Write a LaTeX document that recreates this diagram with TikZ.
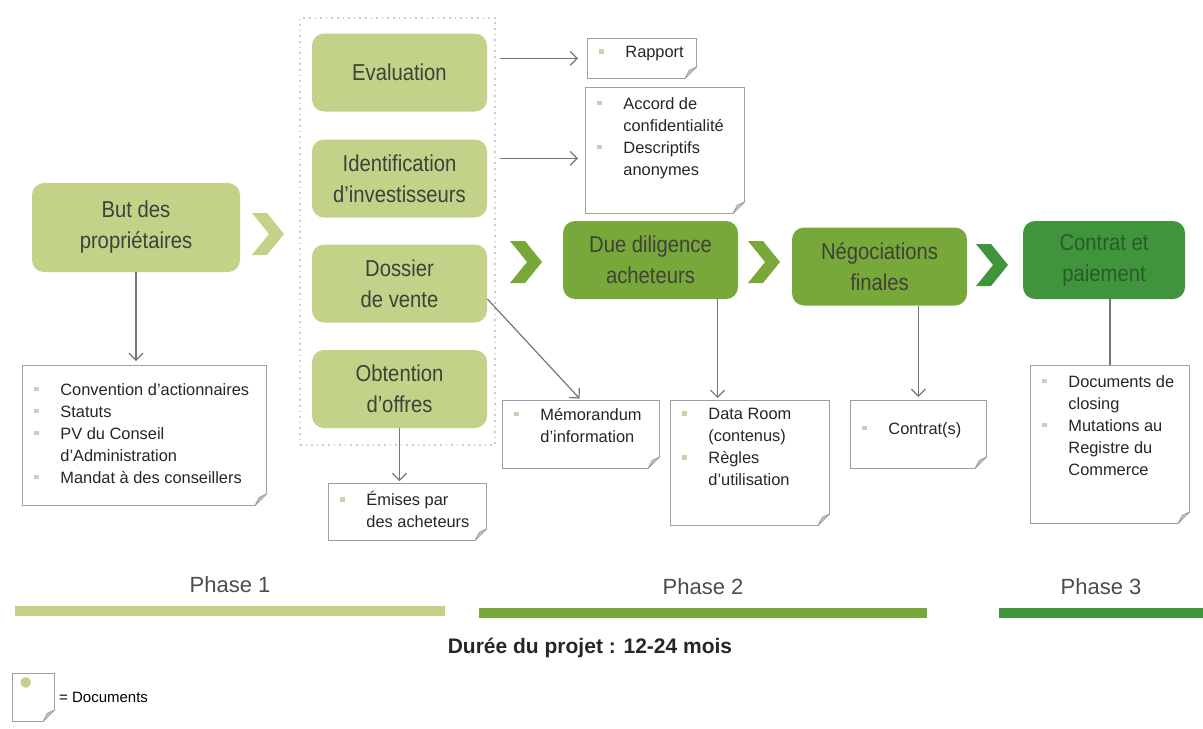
\documentclass[tikz,border=0pt]{standalone}
\usepackage{fontspec}
\setmainfont{Liberation Sans}
\newfontfamily\etapefont{Liberation Sans}[FakeStretch=0.88]
\usetikzlibrary{positioning,arrows.meta}

\definecolor{vertclair}{RGB}{194,210,136}
\definecolor{vertmoyen}{RGB}{120,168,58}
\definecolor{vertfonce}{RGB}{64,148,60}
\definecolor{texte}{RGB}{62,66,56}
\definecolor{textefonce}{RGB}{40,92,40}
\definecolor{trait}{RGB}{118,118,118}
\definecolor{puce}{RGB}{196,210,178}
\definecolor{pli}{RGB}{196,196,196}

\newcommand{\puce}[1]{\par\noindent
  \makebox[14pt][l]{\hspace{1pt}\textcolor{puce}{\rule[2pt]{2.2pt}{2.2pt}}}%
  \parbox[t]{\dimexpr\linewidth-14pt\relax}{\raggedright #1\par\xdef\derniereprof{\the\prevdepth}}%
  \par\prevdepth=\derniereprof\relax}

\begin{document}
\begin{tikzpicture}[x=0.5pt, y=-0.5pt,
    etape/.style={rectangle, rounded corners=6pt, align=center, text=texte,
      font={\etapefont\fontsize{11.5}{15.5}\selectfont}, minimum width=87.5pt, minimum height=39pt},
    cadre/.style={draw=gray!40, dotted, line width=0.8pt, inner sep=0pt,
      minimum width=97.5pt, minimum height=213.5pt},
    doc/.style 2 args={rectangle, draw=trait!70, fill=white, anchor=north west,
      inner xsep=5pt, inner ysep=4pt, text=black!85,
      font={\fontsize{8.2}{11}\selectfont},
      execute at begin node={\begin{minipage}[t][#2][t]{#1}\raggedright},
      execute at end node={\end{minipage}}},
    barre/.style={rectangle, inner sep=0pt, minimum height=5pt},
    phase/.style={inner sep=0pt, text=black!70, font={\fontsize{11}{13}\selectfont}},
    fleche/.style={draw=trait, line width=0.6pt, -{Straight Barb[length=3.5pt,width=7pt]}},
    pics/chevron/.style={code={
      \fill[#1] (-16,-21) -- (-1,-21) -- (16,0) -- (-1,21) -- (-16,21) -- (1,0) -- cycle;}}]
    \useasboundingbox (0,0) rectangle (1203,728);

    % phase 1
    \node[cadre] (cadre) at (397.5,231.5) {};
    \node[etape, fill=vertclair, minimum width=104pt, minimum height=44.5pt] (but) at (136,227.5) {But des\\propriétaires};
    \node[etape, fill=vertclair] (eval) at (399.5,72.5) {Evaluation};
    \node[etape, fill=vertclair] (ident) at (399.5,178.5) {Identification\\d’investisseurs};
    \node[etape, fill=vertclair] (dossier) at (399.5,283.5) {Dossier\\de vente};
    \node[etape, fill=vertclair] (obt) at (399.5,389) {Obtention\\d’offres};

    % phase 2 et 3
    \node[etape, fill=vertmoyen] (due) at (650.5,260) {Due diligence\\acheteurs};
    \node[etape, fill=vertmoyen] (nego) at (879.5,266.5) {Négociations\\finales};
    \node[etape, fill=vertfonce, text=textefonce, minimum width=81pt] (paie) at (1104,260) {Contrat et\\paiement};

    \pic at (268,234) {chevron=vertclair};
    \pic at (526,262) {chevron=vertmoyen};
    \pic at (764,262) {chevron=vertmoyen};
    \pic at (992,265) {chevron=vertfonce};

    % documents
    \node[doc={112pt}{62pt}] (docbut) at (22,365) {\vspace*{5pt}\puce{Convention d’actionnaires}\puce{Statuts}
      \puce{PV du Conseil\\d’Administration}\puce{Mandat à des conseillers}};
    \node[doc={44.5pt}{12pt}] (rapport) at (587,38) {\puce{Rapport}};
    \node[doc={69.5pt}{55pt}] (accord) at (585,87) {\vspace*{1pt}\puce{Accord de\\confidentialité}\puce{Descriptifs\\anonymes}};
    \node[doc={69pt}{20.5pt}] (emises) at (328,483) {\puce{Émises par\\des acheteurs}};
    \node[doc={68.5pt}{26pt}] (memo) at (502,400) {\puce{Mémorandum\\d’information}};
    \node[doc={69.5pt}{54.5pt}] (dataroom) at (670,400) {\puce{Data Room\\(contenus)}\puce{Règles\\d’utilisation}};
    \node[doc={58pt}{26pt}] (contrats) at (850,400) {\vspace*{7pt}\puce{Contrat(s)}};
    \node[doc={69.5pt}{71pt}] (closing) at (1030,365) {\vspace*{1pt}\puce{Documents de\\closing}
      \puce{Mutations au\\Registre du\\Commerce}};
    \node[doc={11pt}{16pt}] (legende) at (12,673) {\vspace*{-2pt}\hspace*{-1.5pt}\textcolor{vertclair}{\fontsize{19}{19}\selectfont •}};
    \node[right=2pt of legende, inner sep=0pt, font={\fontsize{7.5}{9}\selectfont}] (legtexte) {= Documents};

    \foreach \d in {docbut,rapport,accord,emises,memo,dataroom,contrats,closing,legende}{
      \fill[white] ([xshift=-6.5pt,yshift=-0.6pt]\d.south east) -- ([xshift=0.6pt,yshift=-0.6pt]\d.south east)
        -- ([xshift=0.6pt,yshift=6.5pt]\d.south east) -- cycle;
      \filldraw[fill=pli, draw=trait!70, line join=round] ([xshift=-6pt]\d.south east) -- ([yshift=6pt]\d.south east)
        -- ([xshift=-3.8pt,yshift=4.2pt]\d.south east) -- cycle;
    }

    % liens
    \draw[fleche, shorten >=2pt] (but) -- (docbut.north -| but);
    \draw[fleche, shorten >=4.5pt] ([xshift=6.5pt]eval.east |- rapport.west) -- (rapport.west);
    \draw[fleche, shorten >=3.5pt] ([xshift=6.5pt,yshift=-4pt]ident.east |- accord.west) -- ([yshift=-4pt]accord.west);
    \draw[fleche, shorten >=1pt] (dossier.-10) -- (memo.north);
    \draw[fleche, shorten >=1pt] (obt.south) -- (obt.south |- emises.north);
    \draw[fleche, shorten >=1pt] ([xshift=33.5pt]due.south) -- ([xshift=33.5pt]due.south |- dataroom.north);
    \draw[fleche, shorten >=1.5pt] (contrats.north |- nego.south) -- (contrats.north);
    \draw[draw=trait, line width=0.6pt] (closing.north |- paie.south) -- (closing.north);

    % phases
    \node[barre, fill=vertclair, minimum width=215pt] (barre1) at (230,611) {};
    \node[barre, fill=vertmoyen, minimum width=224pt] (barre2) at (703,612.5) {};
    \node[barre, fill=vertfonce, minimum width=102pt] (barre3) at (1101,612.5) {};
    \node[phase, above=6pt of barre1] (phase1) {Phase 1};
    \node[phase, above=6pt of barre2] (phase2) {Phase 2};
    \node[phase, above=6pt of barre3] (phase3) {Phase 3};
    \node[text=black!85, font={\bfseries\fontsize{10.5}{12}\selectfont}] (duree) at (590,648) {Durée du projet : 12-24 mois};
\end{tikzpicture}
\end{document}
